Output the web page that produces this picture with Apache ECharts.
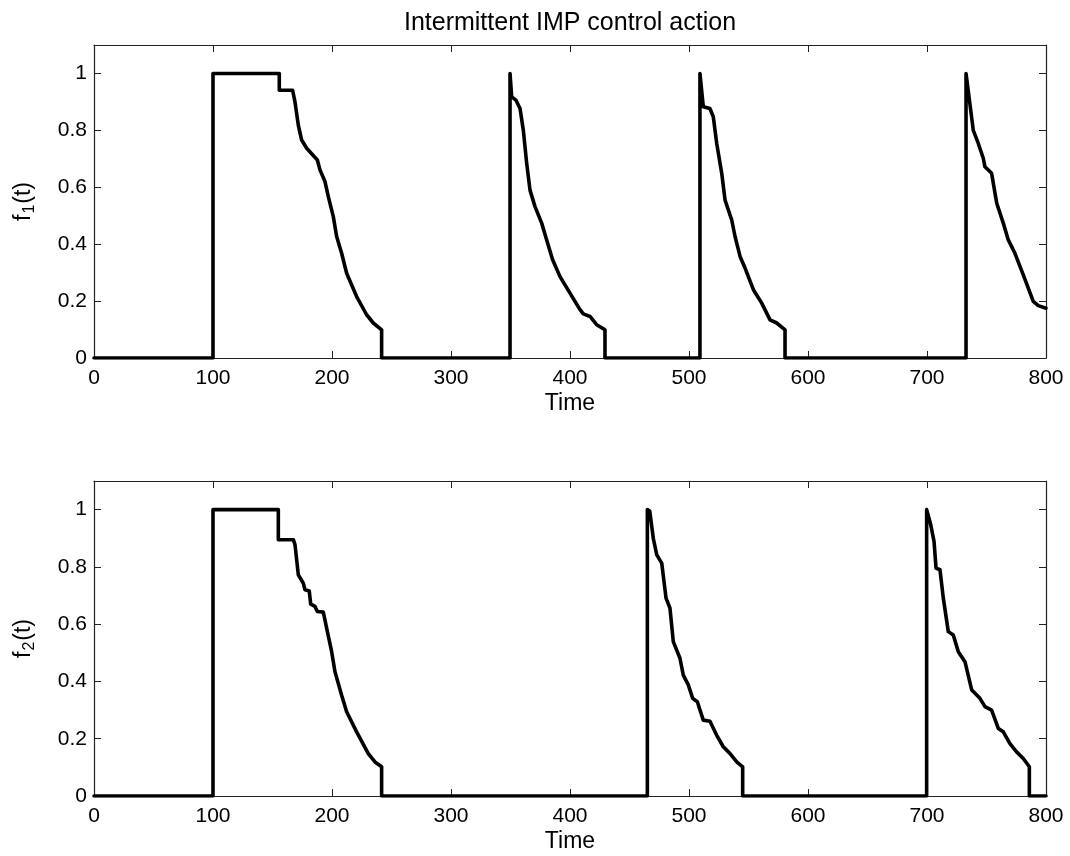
<!DOCTYPE html>
<html><head><meta charset="utf-8">
<script src="https://cdn.jsdelivr.net/npm/echarts@6/dist/echarts.min.js"></script>
<style>html,body{margin:0;padding:0;background:#fff}#c{width:1070px;height:856px}</style>
</head><body><div id="c"></div>
<script>
// ---- data ----
const title = 'Intermittent IMP control action';
const xTicks = [0, 100, 200, 300, 400, 500, 600, 700, 800];
const yTicks = [0, 0.2, 0.4, 0.6, 0.8, 1];

const f1Time = [
  0, 100, 100, 155.7, 155.7, 166.9, 168.9, 171.7, 174.5, 178.7, 187.7, 189.9, 194.1, 196.9, 201.1, 203.9, 208.1, 212.3, 220.7, 229.1, 234.7, 241.7, 241.7,
  349.6, 349.6, 351, 354.6, 358, 360.8, 363.6, 366.4, 370.6, 376.2, 380.4, 385.4, 391.6, 400, 408.4, 411.2, 416.8, 422.4, 429.4, 429.4,
  509.2, 509.2, 512, 517.6, 520.4, 523.3, 527.5, 530.3, 535.9, 538.7, 542.9, 547.1, 554.1, 561.1, 568.1, 573.7, 580.7, 580.7,
  732.8, 732.8, 738.9, 743.1, 747.3, 748.7, 754.3, 758.6, 764.1, 768.3, 773.9, 780.9, 789.3, 793.5, 800
];
const f1Value = [
  0, 0, 1, 1, 0.941, 0.941, 0.90, 0.818, 0.766, 0.737, 0.696, 0.661, 0.62, 0.567, 0.497, 0.427, 0.368, 0.298, 0.216, 0.152, 0.123, 0.099, 0,
  0, 1, 0.918, 0.906, 0.877, 0.80, 0.684, 0.59, 0.532, 0.474, 0.415, 0.345, 0.286, 0.228, 0.170, 0.155, 0.146, 0.117, 0.099, 0,
  0, 1, 0.883, 0.877, 0.848, 0.754, 0.649, 0.555, 0.485, 0.427, 0.357, 0.316, 0.24, 0.193, 0.134, 0.123, 0.099, 0,
  0, 1, 0.80, 0.754, 0.702, 0.672, 0.649, 0.544, 0.474, 0.415, 0.368, 0.292, 0.199, 0.184, 0.175
];
const f2Time = [
  0, 100, 100, 154.9, 154.9, 167.5, 168.9, 171.7, 175.9, 177.3, 180.9, 182.1, 185.7, 187.7, 192.7, 195.5, 199.7, 202.5, 208.1, 212.3, 220.7, 230.5, 236.1, 241.7, 241.7,
  465, 465, 467, 470, 472.9, 477.1, 480.7, 484, 486.8, 492.4, 495.2, 499.4, 503.1, 507, 512, 517.6, 523.3, 528.8, 534.5, 540.1, 545.1, 545.1,
  699.7, 699.7, 703.1, 705.9, 707.6, 710.9, 713.7, 717.9, 722.1, 726.3, 731.9, 737.6, 744.5, 748.7, 754.3, 759.9, 764.1, 769.7, 775.3, 780.9, 786, 786, 800
];
const f2Value = [
  0, 0, 1, 1, 0.895, 0.895, 0.878, 0.772, 0.743, 0.72, 0.716, 0.67, 0.662, 0.644, 0.642, 0.586, 0.504, 0.434, 0.352, 0.294, 0.224, 0.148, 0.119, 0.102, 0,
  0, 1, 0.995, 0.90, 0.842, 0.813, 0.691, 0.656, 0.539, 0.481, 0.422, 0.388, 0.341, 0.329, 0.265, 0.261, 0.212, 0.172, 0.148, 0.119, 0.102, 0,
  0, 1, 0.948, 0.889, 0.796, 0.79, 0.691, 0.574, 0.562, 0.504, 0.469, 0.37, 0.341, 0.312, 0.30, 0.236, 0.224, 0.183, 0.154, 0.131, 0.102, 0, 0
];
// ---------------------------------------

const FONT = 'Liberation Sans';
const pairs = (t, v) => t.map((x, i) => [x, v[i]]);
const axisLine = { show: true, onZero: false, lineStyle: { color: '#222', width: 1.2 } };
const tick = { show: true, inside: true, length: 7, lineStyle: { color: '#222' } };

function xAxes(gi) {
  return [
    { type: 'value', gridIndex: gi, position: 'bottom', min: xTicks[0], max: xTicks[xTicks.length - 1], interval: 100,
      axisLine, axisTick: tick, splitLine: { show: false },
      axisLabel: { color: '#000', fontFamily: FONT, fontSize: 21, margin: 10 },
      name: 'Time', nameLocation: 'middle', nameGap: 34,
      nameTextStyle: { color: '#000', fontFamily: FONT, fontSize: 23 } },
    { type: 'value', gridIndex: gi, position: 'top', min: 0, max: 800, interval: 100,
      axisLine, axisTick: tick, axisLabel: { show: false }, splitLine: { show: false } }
  ];
}
function yAxes(gi, sub) {
  return [
    { type: 'value', gridIndex: gi, position: 'left', min: 0, max: 1.1, interval: 0.2,
      axisLine, axisTick: tick, splitLine: { show: false },
      axisLabel: { color: '#000', fontFamily: FONT, fontSize: 21, margin: 7, showMaxLabel: false,
        formatter: v => (yTicks.some(t => Math.abs(t - v) < 1e-6) ? String(+v.toFixed(1)) : '') },
      name: '{f|f}{s|' + sub + '}{f|(t)}', nameLocation: 'middle', nameGap: 56, nameRotate: 90,
      nameTextStyle: { color: '#000', fontFamily: FONT, fontSize: 23,
        rich: { f: { fontFamily: FONT, fontSize: 23, color: '#000' },
                s: { fontFamily: FONT, fontSize: 16, color: '#000', verticalAlign: 'bottom', padding: [12, 1, 0, 1] } } } },
    { type: 'value', gridIndex: gi, position: 'right', min: 0, max: 1.1, interval: 0.2,
      axisLine, axisTick: tick, axisLabel: { show: false }, splitLine: { show: false } }
  ];
}

const chart = echarts.init(document.getElementById('c'), null, { renderer: 'canvas' });
chart.setOption({
  backgroundColor: '#fff',
  animation: false,
  title: { text: title, left: 565, top: 6, textAlign: 'center',
    textStyle: { fontFamily: FONT, fontSize: 25, fontWeight: 'normal', color: '#000' } },
  grid: [
    { left: 94, right: 24, top: 45, height: 313 },
    { left: 94, right: 24, top: 481, height: 315 }
  ],
  xAxis: [...xAxes(0), ...xAxes(1)],
  yAxis: [...yAxes(0, '1'), ...yAxes(1, '2')],
  series: [
    { type: 'line', xAxisIndex: 0, yAxisIndex: 0, data: pairs(f1Time, f1Value), showSymbol: false,
      lineStyle: { color: '#000', width: 3.6, join: 'round', cap: 'round' } },
    { type: 'line', xAxisIndex: 2, yAxisIndex: 2, data: pairs(f2Time, f2Value), showSymbol: false,
      lineStyle: { color: '#000', width: 3.6, join: 'round', cap: 'round' } }
  ]
});
</script></body></html>
